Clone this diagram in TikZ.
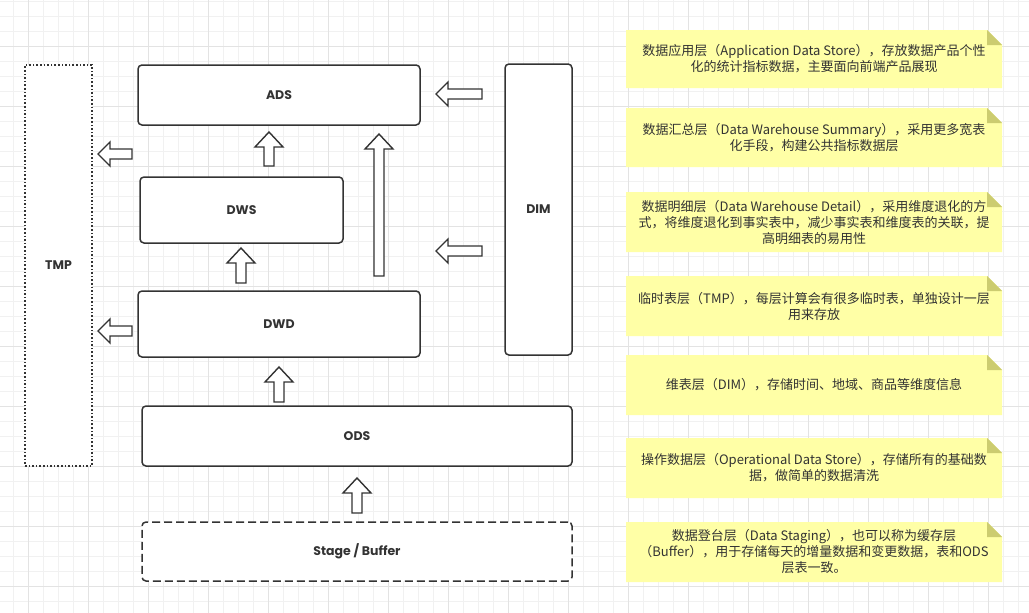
\documentclass[tikz,border=0pt]{standalone}
\usepackage{fontspec}
\setmainfont{Noto Sans CJK SC}
\newfontfamily\lblfont{Poppins}
\usetikzlibrary{calc}
\definecolor{dark}{HTML}{333333}
\definecolor{notey}{HTML}{FFFFA6}
\definecolor{notefoldc}{HTML}{CCCC70}
\definecolor{gridminor}{HTML}{F1F1F1}
\definecolor{gridmajor}{HTML}{E3E3E3}
\begin{document}
\begin{tikzpicture}[x=1pt,y=-1pt,
  layerbox/.style={draw=dark, line width=1.5pt, rounded corners=4pt, fill=white, text=dark,
    font=\lblfont\bfseries\fontsize{12.5}{15}\selectfont, inner sep=0pt},
  tmpbox/.style={layerbox, rounded corners=0pt, dash pattern=on 1.6pt off 2pt},
  stagebox/.style={layerbox, dash pattern=on 8pt off 4pt},
  notetext/.style={text=dark, align=center, inner sep=0pt, font=\fontsize{13}{16}\selectfont},
  notefill/.style={fill=notey},
  notefold/.style={fill=notefoldc},
  blockarrow/.style 2 args={draw=dark, fill=white, line width=1.4pt, line join=miter,
    to path={let \p1=(\tikztostart), \p2=(\tikztotarget),
      \n1={atan2(\y2-\y1,\x2-\x1)}, \n2={veclen(\x2-\x1,\y2-\y1)} in
      [shift={(\x1,\y1)}, rotate=\n1]
      (0pt,5pt) -- ({(\n2-#2)*1pt},5pt) -- ({(\n2-#2)*1pt},{#1*1pt}) -- ({\n2*1pt},0pt)
      -- ({(\n2-#2)*1pt},{-#1*1pt}) -- ({(\n2-#2)*1pt},-5pt) -- (0pt,-5pt) -- cycle}},
  uparrow/.style={blockarrow={14}{15}},
  leftarrow/.style={blockarrow={12}{12}}
]
\useasboundingbox (0,0) rectangle (1029,613);
\fill[white] (0,0) rectangle (1029,613);
% grid
\foreach \i in {0,...,68} \draw[gridminor, line width=0.8pt] ({13.3+15*\i},0) -- ({13.3+15*\i},613);
\foreach \i in {0,...,40} \draw[gridminor, line width=0.8pt] (0,{1.7+15*\i}) -- (1029,{1.7+15*\i});
\foreach \i in {0,...,16} \draw[gridmajor, line width=0.8pt] ({28.3+60*\i},0) -- ({28.3+60*\i},613);
\foreach \i in {0,...,9} \draw[gridmajor, line width=0.8pt] (0,{46.7+60*\i}) -- (1029,{46.7+60*\i});

% layers
\node[tmpbox, minimum width=67pt, minimum height=401pt] (TMP) at (58.5,265.5) {TMP};
\node[layerbox, minimum width=282pt, minimum height=60pt] (ADS) at (279,95) {ADS};
\node[layerbox, minimum width=203pt, minimum height=66pt] (DWS) at (241.5,210) {DWS};
\node[layerbox, minimum width=282pt, minimum height=66pt] (DWD) at (279,324) {DWD};
\node[layerbox, minimum width=430pt, minimum height=60pt] (ODS) at (357,436) {ODS};
\node[stagebox, minimum width=430pt, minimum height=59pt] (STG) at (357,551.5) {Stage / Buffer};
\node[layerbox, minimum width=67pt, minimum height=291pt] (DIM) at (538.5,209.5) {DIM};

% block arrows
\coordinate (a1t) at (269,166);  \coordinate (a1h) at (269,132);
\coordinate (a2t) at (379,276);  \coordinate (a2h) at (379,134);
\coordinate (a3t) at (241,283);  \coordinate (a3h) at (241,248);
\coordinate (a4t) at (279,402);  \coordinate (a4h) at (279,367);
\coordinate (a5t) at (357,513);  \coordinate (a5h) at (357,478);
\coordinate (a6t) at (482,94);   \coordinate (a6h) at (436,94);
\coordinate (a7t) at (482,251);  \coordinate (a7h) at (436,251);
\coordinate (a8t) at (132,154);  \coordinate (a8h) at (98,154);
\coordinate (a9t) at (132,331);  \coordinate (a9h) at (98,331);
\path[uparrow] (a1t) to (a1h);
\path[uparrow] (a2t) to (a2h);
\path[uparrow] (a3t) to (a3h);
\path[uparrow] (a4t) to (a4h);
\path[uparrow] (a5t) to (a5h);
\path[leftarrow] (a6t) to (a6h);
\path[leftarrow] (a7t) to (a7h);
\path[leftarrow] (a8t) to (a8h);
\path[leftarrow] (a9t) to (a9h);

% notes
\newcommand\stickynote[4]{%
  \fill[notefill] (626,#2) -- (987,#2) -- (1002,{#2+15}) -- (1002,#3) -- (626,#3) -- cycle;
  \fill[notefold] (987,#2) -- (1002,{#2+15}) -- (987,{#2+15}) -- cycle;
  \node[notetext] (#1) at (814,{(#2+#3)/2}) {#4};}
\stickynote{n1}{30}{88}{数据应用层（Application Data Store），存放数据产品个性\\化的统计指标数据，主要面向前端产品展现}
\stickynote{n2}{108}{167}{数据汇总层（Data Warehouse Summary），采用更多宽表\\化手段，构建公共指标数据层}
\stickynote{n3}{192}{252}{数据明细层（Data Warehouse Detail），采用维度退化的方\\式，将维度退化到事实表中，减少事实表和维度表的关联，提\\高明细表的易用性}
\stickynote{n4}{276}{336}{临时表层（TMP），每层计算会有很多临时表，单独设计一层\\用来存放}
\stickynote{n5}{355}{415}{维表层（DIM），存储时间、地域、商品等维度信息}
\stickynote{n6}{438}{498}{操作数据层（Operational Data Store），存储所有的基础数\\据，做简单的数据清洗}
\stickynote{n7}{522}{582}{数据登台层（Data Staging），也可以称为缓存层\\（Buffer），用于存储每天的增量数据和变更数据，表和ODS\\层表一致。}
\end{tikzpicture}
\end{document}
